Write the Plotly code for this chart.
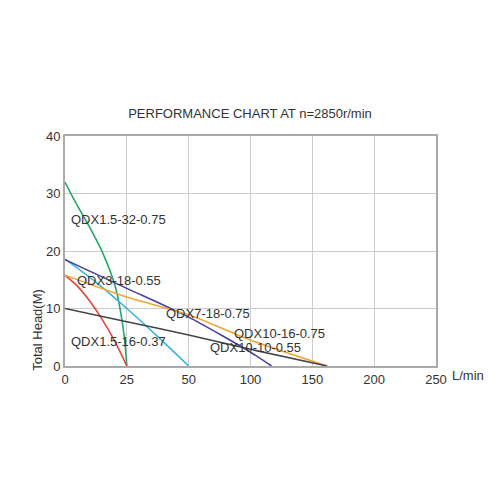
import numpy as np
import plotly.graph_objects as go

# Flow axis tick labels (non-uniform spacing: equal gridline gaps)
TICK_FLOW = [0, 25, 50, 100, 150, 200, 250]
HEAD_TICKS = [0, 10, 20, 30, 40]

# Curves: flow (L/min) and head (m)
q_32_075 = [0, 2, 5, 10, 15, 20, 22, 24, 25]
h_32_075 = [32, 30.3, 27.9, 24.1, 19.9, 14.3, 10.6, 5.0, 0]

q_16_037 = [0, 5, 10, 15, 20, 25]
h_16_037 = [15.8, 13.9, 11.3, 8.1, 4.4, 0]

q_3_18 = [0, 12.5, 25, 37.5, 50]
h_3_18 = [18.6, 14.6, 10.0, 5.1, 0]

q_7_18 = [0, 25, 50, 100, 117]
h_7_18 = [18.5, 13.5, 8.5, 2.4, 0]

q_10_16 = [0, 25, 50, 100, 162]
h_10_16 = [15.8, 12.0, 8.9, 4.5, 0]

q_10_10 = [0, 25, 50, 100, 162]
h_10_10 = [10.0, 7.7, 5.4, 2.9, 0]

names = ["QDX1.5-32-0.75", "QDX1.5-16-0.37", "QDX3-18-0.55",
         "QDX7-18-0.75", "QDX10-16-0.75", "QDX10-10-0.55"]
colors = ["#22a86a", "#e0463a", "#35b3e0", "#4b3f9e", "#f2a531", "#454545"]

# Label positions (flow, head) for curve names
label_q = [1.6, 1.7, 4.0, 40, 85, 65.5]
label_h = [25.5, 4.3, 14.9, 9.2, 5.6, 3.2]


def pos(q):
    return np.interp(q, TICK_FLOW, np.arange(len(TICK_FLOW)))


series = [(q_32_075, h_32_075), (q_16_037, h_16_037), (q_3_18, h_3_18),
          (q_7_18, h_7_18), (q_10_16, h_10_16), (q_10_10, h_10_10)]

FONT = "Liberation Sans, Arial"
TXT = "#333333"

fig = go.Figure()
for (q, h), name, c in zip(series, names, colors):
    qq = np.array(q, dtype=float)
    fig.add_trace(go.Scatter(
        x=pos(qq), y=h, mode="lines", name=name,
        line=dict(color=c, width=1.6, shape="spline", smoothing=0.7),
        hoverinfo="skip", showlegend=False))

for name, lq, lh in zip(names, label_q, label_h):
    fig.add_annotation(x=float(pos(lq)), y=lh, text=name, showarrow=False,
                       xanchor="left", yanchor="middle",
                       font=dict(family=FONT, size=13, color=TXT))

fig.add_annotation(xref="paper", yref="paper", x=1.038, y=-0.04, text="L/min",
                   showarrow=False, xanchor="left", yanchor="middle",
                   font=dict(family=FONT, size=13, color=TXT))
fig.add_annotation(xref="paper", yref="paper", x=-0.073, y=0.157, text="Total Head(M)",
                   textangle=-90, showarrow=False, xanchor="center", yanchor="middle",
                   font=dict(family=FONT, size=13, color=TXT))

fig.update_layout(
    width=500, height=500,
    margin=dict(l=57, r=72, t=128, b=142),
    paper_bgcolor="white", plot_bgcolor="white",
    title=dict(text="PERFORMANCE CHART AT n=2850r/min", x=0.484, xanchor="center",
               y=1 - 105 / 500, yanchor="middle", yref="container",
               font=dict(family=FONT, size=13, color=TXT)),
    xaxis=dict(range=[0, 6], tickvals=list(range(len(TICK_FLOW))),
               ticktext=[str(t) for t in TICK_FLOW],
               showgrid=True, gridcolor="#cccccc", gridwidth=1.3,
               showline=True, linecolor="#aaaaaa", linewidth=2, mirror=True,
               zeroline=False, ticks="", ticklen=0,
               tickfont=dict(family=FONT, size=13, color=TXT)),
    yaxis=dict(range=[0, 40], tickvals=HEAD_TICKS,
               showgrid=True, gridcolor="#cccccc", gridwidth=1.3,
               showline=True, linecolor="#aaaaaa", linewidth=2, mirror=True,
               zeroline=False, ticks="", ticklen=0,
               tickfont=dict(family=FONT, size=13, color=TXT)),
)

fig.write_html("out.html")
